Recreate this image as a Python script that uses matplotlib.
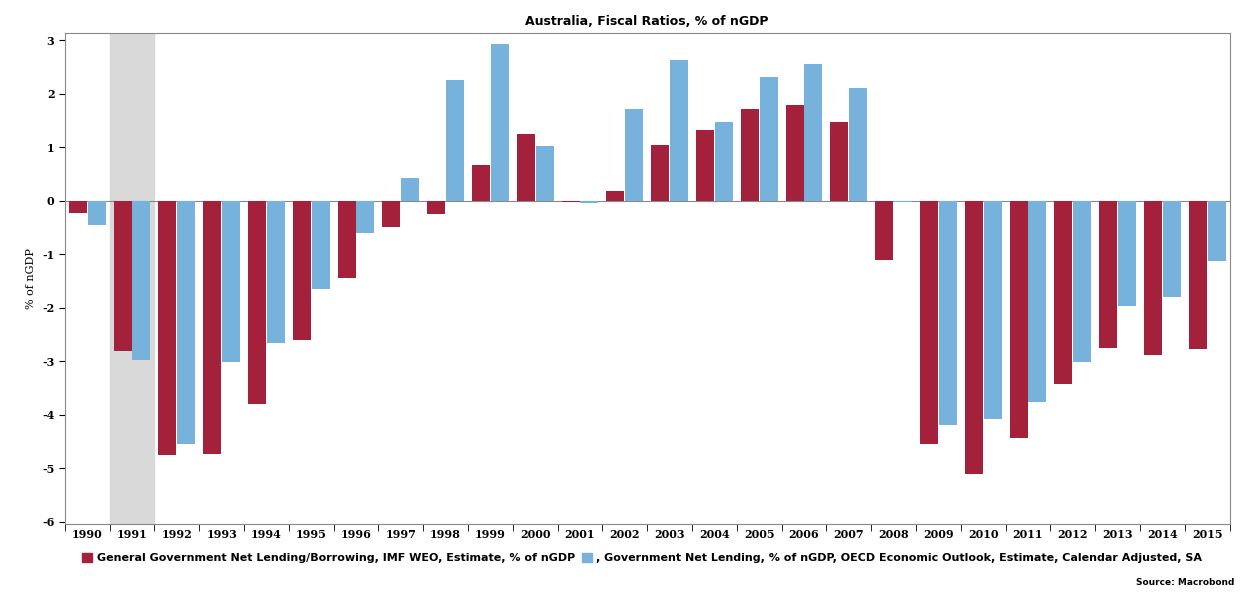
import matplotlib.pyplot as plt
import numpy as np
from matplotlib.patches import Patch

years = list(range(1990, 2016))
imf = [-0.23, -2.8, -4.75, -4.73, -3.8, -2.6, -1.45, -0.5, -0.25, 0.67, 1.25, -0.03, 0.19,
       1.05, 1.33, 1.71, 1.78, 1.47, -1.1, -4.54, -5.1, -4.43, -3.42, -2.76, -2.88, -2.78]
oecd = [-0.46, -2.97, -4.55, -3.02, -2.65, -1.65, -0.6, 0.43, 2.25, 2.93, 1.02, -0.05, 1.71,
        2.63, 1.47, 2.31, 2.56, 2.1, -0.03, -4.19, -4.07, -3.76, -3.01, -1.96, -1.8, -1.12]

red = "#A3213A"
blue = "#77B2DD"
plt.rcParams['font.family'] = ['DejaVu Serif']

fig = plt.figure(figsize=(12.47, 5.94), dpi=100)
ax = fig.add_axes([0.052, 0.118, 0.934, 0.826])
x = np.arange(len(years))
ax.axvspan(0.5, 1.5, color="#d9d9d9", zorder=0)
ax.bar(x - 0.21, imf, width=0.4, color=red, zorder=2)
ax.bar(x + 0.21, oecd, width=0.4, color=blue, zorder=2)
ax.axhline(0, color="#888888", lw=0.8, zorder=1)
ax.set_xlim(-0.5, len(years) - 0.5)
ax.set_ylim(-6.04, 3.13)
ax.set_yticks(range(-6, 4))
ax.set_yticklabels([str(v) for v in range(-6, 4)], fontsize=8, fontweight="bold")
ax.set_xticks(x)
ax.set_xticklabels([str(y) for y in years], fontsize=8, fontweight="bold")
ax.set_xticks(np.arange(-0.5, len(years)), minor=True)
ax.tick_params(axis="x", which="major", length=0)
ax.tick_params(axis="x", which="minor", length=5, direction="out")
ax.tick_params(axis="y", length=4)
for s in ax.spines.values():
    s.set_color("#888888")
ax.set_ylabel("% of nGDP", fontsize=8)
ax.set_title("Australia, Fiscal Ratios, % of nGDP", fontsize=9, fontweight="bold",
             family="DejaVu Sans", pad=6)
handles = [Patch(color=red), Patch(color=blue)]
fig.legend(handles, ["General Government Net Lending/Borrowing, IMF WEO, Estimate, % of nGDP",
                     ", Government Net Lending, % of nGDP, OECD Economic Outlook, Estimate, Calendar Adjusted, SA"],
           loc="lower left", bbox_to_anchor=(0.058, 0.035), ncol=2, frameon=False,
           prop={"family": "DejaVu Sans", "weight": "bold", "size": 8},
           handlelength=0.9, handleheight=0.9, columnspacing=0.6, handletextpad=0.4)
fig.text(0.99, 0.015, "Source: Macrobond", ha="right", fontsize=6.5, fontweight="bold",
         family="DejaVu Sans")
fig.savefig("out.png", dpi=100)
